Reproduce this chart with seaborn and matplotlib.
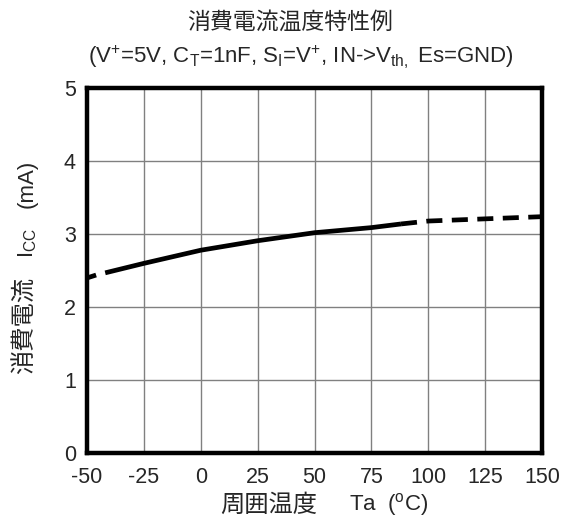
import numpy as np
import pandas as pd
import matplotlib
matplotlib.use('Agg')
import matplotlib.pyplot as plt
import seaborn as sns

# data
ta_start = [-50, -46]
icc_start = [2.40, 2.44]
ta_meas = [-42, -25, 0, 25, 50, 75, 88]
icc_meas = [2.47, 2.60, 2.78, 2.91, 3.02, 3.09, 3.14]
ta_ext = [88, 100, 125, 150]
icc_ext = [3.14, 3.18, 3.21, 3.24]

x_ticks = [-50, -25, 0, 25, 50, 75, 100, 125, 150]
y_ticks = [0, 1, 2, 3, 4, 5]

sns.set_style('white')
plt.rcParams['font.family'] = ['Liberation Sans', 'Noto Sans CJK JP']
plt.rcParams['mathtext.fontset'] = 'custom'
plt.rcParams['mathtext.rm'] = 'Liberation Sans'
plt.rcParams['mathtext.it'] = 'Liberation Sans'
plt.rcParams['axes.unicode_minus'] = False

fig = plt.figure(figsize=(5.66, 5.19), dpi=100)
ax = fig.add_axes([0.1537, 0.127, 0.804, 0.703])

df_meas = pd.DataFrame({'Ta': ta_meas, 'Icc': icc_meas})
df_ext = pd.DataFrame({'Ta': ta_ext, 'Icc': icc_ext})
df_start = pd.DataFrame({'Ta': ta_start, 'Icc': icc_start})

sns.lineplot(data=df_meas, x='Ta', y='Icc', ax=ax, color='black', lw=3.4,
             solid_capstyle='butt')
sns.lineplot(data=df_ext, x='Ta', y='Icc', ax=ax, color='black', lw=3.4,
             dashes=False, linestyle=(0, (3.4, 2.0)), dash_capstyle='butt')
sns.lineplot(data=df_start, x='Ta', y='Icc', ax=ax, color='black', lw=3.4,
             solid_capstyle='butt')

ax.set_xlim(-50, 150)
ax.set_ylim(0, 5)
ax.set_xticks(x_ticks)
ax.set_yticks(y_ticks)
ax.grid(True, color='#808080', lw=1)
ax.tick_params(direction='in', length=11, width=1, color='black',
               labelsize=15.5)
ax.tick_params(axis='x', pad=10)
ax.tick_params(axis='y', pad=8)
for s in ax.spines.values():
    s.set_linewidth(3.2)
    s.set_color('black')
ax.set_xlabel('')
ax.set_ylabel('')

# axis labels split so CJK and mathtext parts each get a proper font
fig.text(0.475, 0.025, '周囲温度', ha='center', va='center', fontsize=17.5)
fig.text(0.686, 0.027, 'Ta  ($^{\\mathregular{o}}$C)', ha='center', va='center', fontsize=16)
fig.text(0.045, 0.372, '消費電流', ha='center', va='center', rotation=90, fontsize=17.5)
fig.text(0.049, 0.532, 'I$_{\\mathregular{CC}}$', ha='center', va='center', rotation=90, fontsize=16)
fig.text(0.048, 0.645, '(mA)', ha='center', va='center', rotation=90, fontsize=16)

fig.text(0.512, 0.958, '消費電流温度特性例', ha='center', va='center', fontsize=16.5)
fig.text(0.532, 0.890,
         '(V$^{+}$=5V, C$_{\\mathregular{T}}$=1nF, S$_{\\mathregular{I}}$=V$^{+}$, '
         'IN->V$_{\\mathregular{th,}}$ Es=GND)',
         ha='center', va='center', fontsize=16)

fig.savefig('out.png', dpi=100)
